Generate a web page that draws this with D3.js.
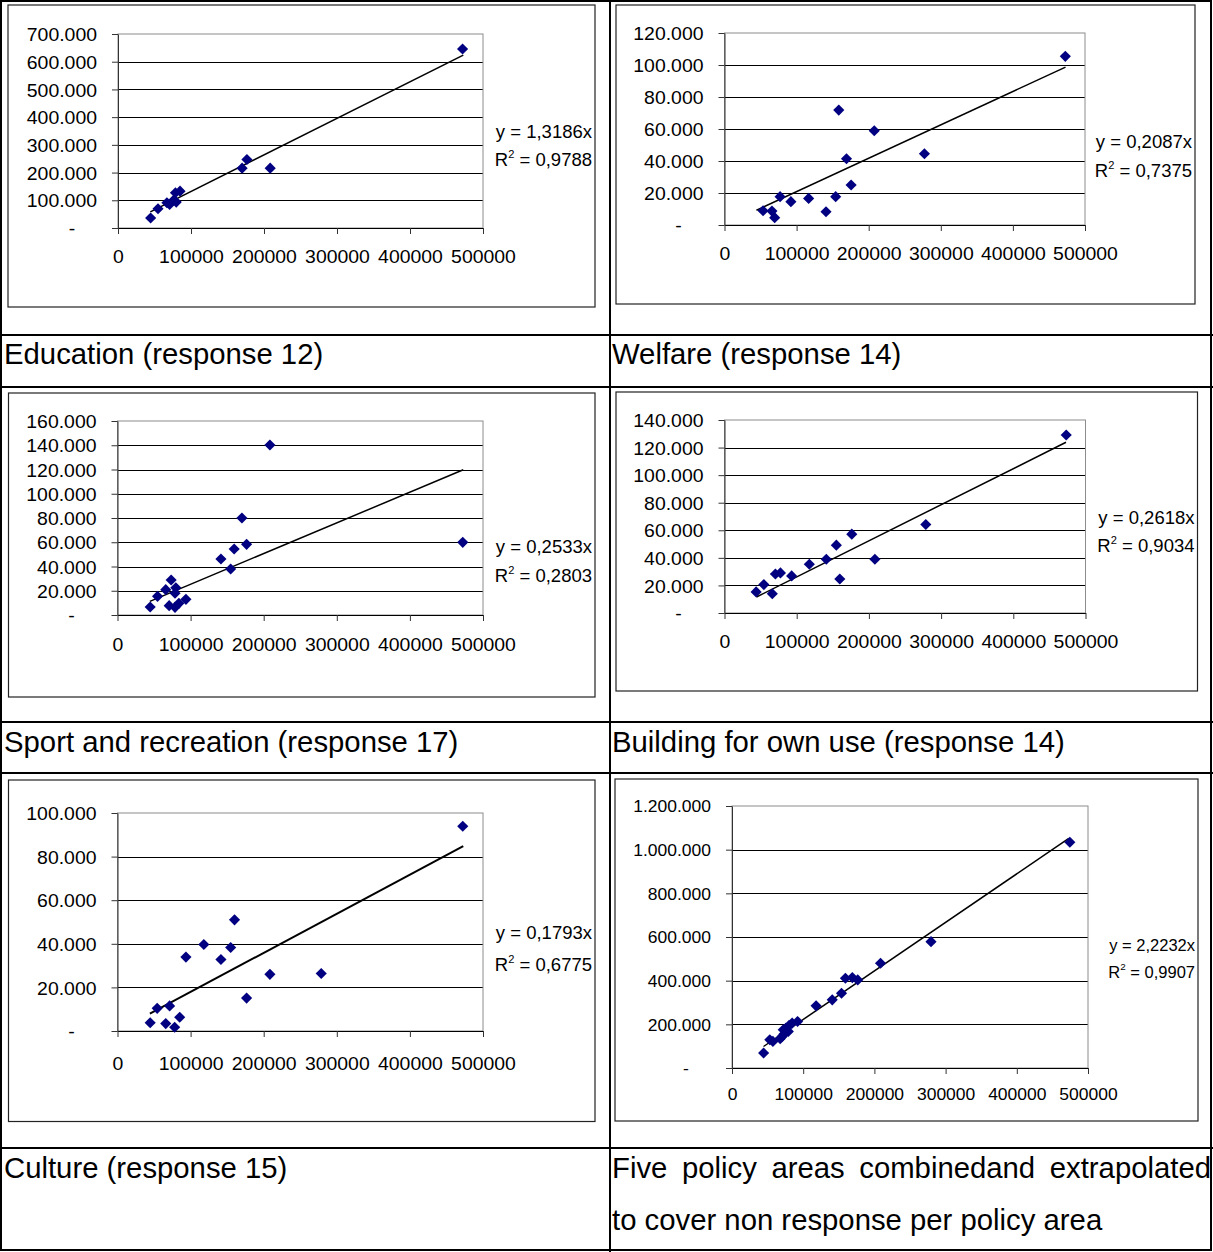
<!DOCTYPE html>
<html>
<head>
<meta charset="utf-8">
<script src="https://cdn.jsdelivr.net/npm/d3@7"></script>
<style>
  body { margin: 0; background: #fff; }
  svg { display: block; font-family: Arial, "Liberation Sans", sans-serif; }
</style>
</head>
<body>
<svg id="page" width="1213" height="1252"></svg>
<script>
// ---- data ----
const xTicks = [0, 100000, 200000, 300000, 400000, 500000];
const trendRange = [44300, 473000];

const eduX = [44700, 54800, 67000, 70700, 76000, 78700, 79800, 85000, 170000, 176600, 208500, 472000];
const eduY = [36000, 69600, 91000, 85000, 100000, 127000, 93600, 133000, 216000, 247000, 216000, 646000];

const welX = [53500, 65800, 69600, 77100, 92100, 116700, 140800, 154200, 158500, 169200, 175600, 207700, 277300, 472700];
const welY = [8900, 8700, 4600, 17700, 14600, 16600, 8300, 17700, 71800, 41400, 25000, 58900, 44500, 105400];

const sptX = [44700, 54800, 66000, 73400, 70700, 78700, 79800, 78700, 84000, 93600, 141500, 154800, 159600, 170200, 176600, 208500, 472300];
const sptY = [6600, 15400, 20900, 28900, 7700, 6300, 22500, 17900, 9600, 12900, 46200, 37900, 54400, 80000, 58300, 140200, 59900];

const bldX = [43800, 54500, 66200, 70500, 77500, 93000, 117500, 141000, 154900, 159700, 176300, 208300, 278800, 473300];
const bldY = [15300, 20600, 14000, 28300, 29100, 26900, 35400, 39000, 49200, 24700, 57200, 39000, 64200, 129100];

const culX = [44700, 54300, 66000, 71300, 78200, 85100, 93600, 118100, 141500, 154800, 160100, 176600, 208500, 278700, 472300];
const culY = [3800, 10400, 3400, 11500, 1700, 6300, 33900, 39700, 32800, 38300, 51000, 15100, 26000, 26400, 93900];

const allX = [44400, 53100, 57400, 67700, 70400, 73100, 72000, 75800, 79100, 80200, 84500, 92100, 118100, 140800, 153800, 159300, 169000, 176600, 208600, 279500, 474500];
const allY = [68500, 129400, 121800, 134000, 144700, 155300, 175000, 182700, 167500, 195000, 205600, 213200, 284800, 312200, 342600, 411200, 414200, 403500, 479700, 578700, 1034000];

const yMaxes = [700000, 120000, 160000, 140000, 100000, 1200000];
const yStepList = [100000, 20000, 20000, 20000, 20000, 200000];
const slopes = ['1,3186', '0,2087', '0,2533', '0,2618', '0,1793', '2,2232'];
const rSquared = ['0,9788', '0,7375', '0,2803', '0,9034', '0,6775', '0,9907'];
const captions = [
  'Education (response 12)',
  'Welfare (response 14)',
  'Sport and recreation (response 17)',
  'Building for own use (response 14)',
  'Culture (response 15)'
];
const lastCaption = ['Five policy areas combinedand extrapolated', 'to cover non response per policy area'];

// ---- layout ----
const panels = [
  { xs: eduX, ys: eduY, box: [8, 5, 595, 307], plot: [118, 34, 483, 228], eqY: 131, r2Y: 159, xLabY: 256, font: 18.5, k: 1.05, lw: 1.5 },
  { xs: welX, ys: welY, box: [616, 5, 1195, 304], plot: [724.5, 33, 1085, 225], eqY: 141, r2Y: 170, xLabY: 253, font: 18.5, k: 1.05, lw: 1.5 },
  { xs: sptX, ys: sptY, box: [8.5, 393, 595, 697], plot: [117.5, 421, 483, 615], eqY: 546, r2Y: 575, xLabY: 644, font: 18.5, k: 1.05, lw: 1.5 },
  { xs: bldX, ys: bldY, box: [616, 392, 1197.5, 691], plot: [724.5, 420, 1085.5, 613], eqY: 517, r2Y: 545, xLabY: 641, font: 18.5, k: 1.05, lw: 1.5 },
  { xs: culX, ys: culY, box: [8.5, 780, 595, 1121.5], plot: [117.5, 813, 483, 1031], eqY: 932, r2Y: 964, xLabY: 1063, font: 18.5, k: 1.05, lw: 2 },
  { xs: allX, ys: allY, box: [615, 779, 1198, 1121], plot: [732, 806, 1088, 1068], eqY: 945, r2Y: 972, xLabY: 1094, font: 16.5, k: 1.06, lw: 1.5 }
];

const nl = d3.formatLocale({ decimal: ',', thousands: '.', grouping: [3], currency: ['', ''] });
const fmtThousands = nl.format(',d');
const fmtY = (v) => (v === 0 ? '-' : fmtThousands(v));

const svg = d3.select('#page');

function stretch(sel, k) {
  sel.each(function () {
    const w = this.getComputedTextLength();
    d3.select(this).attr('textLength', w * k).attr('lengthAdjust', 'spacingAndGlyphs');
  });
}

panels.forEach((p, i) => {
  const [bx0, by0, bx1, by1] = p.box;
  const [left, top, right, bottom] = p.plot;
  const yMax = yMaxes[i];
  const yTicks = d3.range(0, yMax + 1, yStepList[i]);

  const x = d3.scaleLinear().domain([0, 500000]).range([left, right]);
  const y = d3.scaleLinear().domain([0, yMax]).range([bottom, top]);

  const g = svg.append('g').attr('class', 'panel');

  // chart frame
  g.append('rect')
    .attr('x', bx0).attr('y', by0)
    .attr('width', bx1 - bx0).attr('height', by1 - by0)
    .attr('fill', '#fff').attr('stroke', '#222').attr('stroke-width', 1.2);

  // gridlines
  g.append('g')
    .selectAll('line')
    .data(yTicks.filter((v) => v > 0 && v < yMax))
    .enter()
    .append('line')
    .attr('x1', left).attr('x2', right)
    .attr('y1', (d) => Math.round(y(d)) + 0.5).attr('y2', (d) => Math.round(y(d)) + 0.5)
    .attr('stroke', '#000').attr('stroke-width', 1);

  // plot area border
  g.append('rect')
    .attr('x', left).attr('y', top)
    .attr('width', right - left).attr('height', bottom - top)
    .attr('fill', 'none').attr('stroke', '#8c8c8c').attr('stroke-width', 1);

  // y axis
  const yAxis = d3.axisLeft(y).tickValues(yTicks).tickFormat(fmtY).tickSize(6).tickSizeOuter(0).tickPadding(15);
  const ya = g.append('g').attr('transform', `translate(${left},0)`).call(yAxis);
  ya.select('.domain').attr('stroke', '#333');
  ya.selectAll('.tick line').attr('stroke', '#333');
  ya.selectAll('.tick text')
    .attr('font-size', p.font).attr('fill', '#000').attr('font-family', 'Arial, "Liberation Sans", sans-serif')
    .attr('dy', '0.36em')
    .call(stretch, p.k);
  ya.selectAll('.tick text').filter((d) => d === 0)
    .attr('text-anchor', 'middle').attr('x', -46);

  // x axis
  const xAxis = d3.axisBottom(x).tickValues(xTicks).tickFormat(d3.format('d')).tickSize(6).tickSizeOuter(0);
  const xa = g.append('g').attr('transform', `translate(0,${bottom})`).call(xAxis);
  xa.select('.domain').attr('stroke', '#000');
  xa.selectAll('.tick line').attr('stroke', '#333');
  xa.selectAll('.tick text')
    .attr('font-size', p.font).attr('fill', '#000').attr('font-family', 'Arial, "Liberation Sans", sans-serif')
    .attr('y', p.xLabY - bottom).attr('dy', '0.36em')
    .call(stretch, p.k);

  // trend line through the origin
  const slope = parseFloat(slopes[i].replace(',', '.'));
  const line = d3.line().x((d) => x(d)).y((d) => y(d * slope));
  g.append('path')
    .datum(trendRange)
    .attr('d', line)
    .attr('fill', 'none').attr('stroke', '#000').attr('stroke-width', p.lw);

  // points
  const pts = p.xs.map((v, j) => ({ x: v, y: p.ys[j] }));
  g.append('g')
    .selectAll('path')
    .data(pts)
    .enter()
    .append('path')
    .attr('d', d3.symbol().type(d3.symbolSquare).size(62))
    .attr('transform', (d) => `translate(${x(d.x)},${y(d.y)}) rotate(45)`)
    .attr('fill', '#000080');

  // equation labels
  const ex = bx1 - 3;
  g.append('text')
    .attr('x', ex).attr('y', p.eqY).attr('dy', '0.36em')
    .attr('text-anchor', 'end').attr('font-size', p.font)
    .text(`y = ${slopes[i]}x`)
    .call(stretch, 1.0);
  const r2 = g.append('text')
    .attr('x', ex).attr('y', p.r2Y).attr('dy', '0.36em')
    .attr('text-anchor', 'end').attr('font-size', p.font);
  r2.append('tspan').text('R');
  r2.append('tspan').attr('dy', -8).attr('font-size', p.font * 0.6).text('2');
  r2.append('tspan').attr('dy', 8).text(` = ${rSquared[i]}`);
  r2.call(stretch, 1.0);
});

// ---- table grid ----
const grid = svg.append('g').attr('stroke', '#000').attr('stroke-width', 2);
[335, 387, 722, 773, 1148].forEach((yy) => {
  grid.append('line').attr('x1', 0).attr('x2', 1213).attr('y1', yy).attr('y2', yy);
});
grid.append('line').attr('x1', 610).attr('x2', 610).attr('y1', 0).attr('y2', 1252);
grid.append('rect').attr('x', 1).attr('y', 1).attr('width', 1210).attr('height', 1249).attr('fill', 'none');

// ---- captions ----
const capPos = [[4, 353], [612, 353], [4, 741], [612, 741], [4, 1167]];
const capFont = 29.3;
captions.forEach((c, i) => {
  svg.append('text')
    .attr('x', capPos[i][0]).attr('y', capPos[i][1]).attr('dy', '0.36em')
    .attr('font-size', capFont).text(c);
});

// justified first line of the last caption
const words = lastCaption[0].split(' ');
const tmp = words.map((w) => {
  const t = svg.append('text').attr('font-size', capFont).text(w);
  const len = t.node().getComputedTextLength();
  t.remove();
  return len;
});
const lineStart = 612, lineEnd = 1211;
const gap = (lineEnd - lineStart - d3.sum(tmp)) / (words.length - 1);
let cx = lineStart;
words.forEach((w, i) => {
  svg.append('text')
    .attr('x', cx).attr('y', 1167).attr('dy', '0.36em')
    .attr('font-size', capFont).text(w);
  cx += tmp[i] + gap;
});
svg.append('text')
  .attr('x', lineStart).attr('y', 1219).attr('dy', '0.36em')
  .attr('font-size', capFont).text(lastCaption[1]);
</script>
</body>
</html>
